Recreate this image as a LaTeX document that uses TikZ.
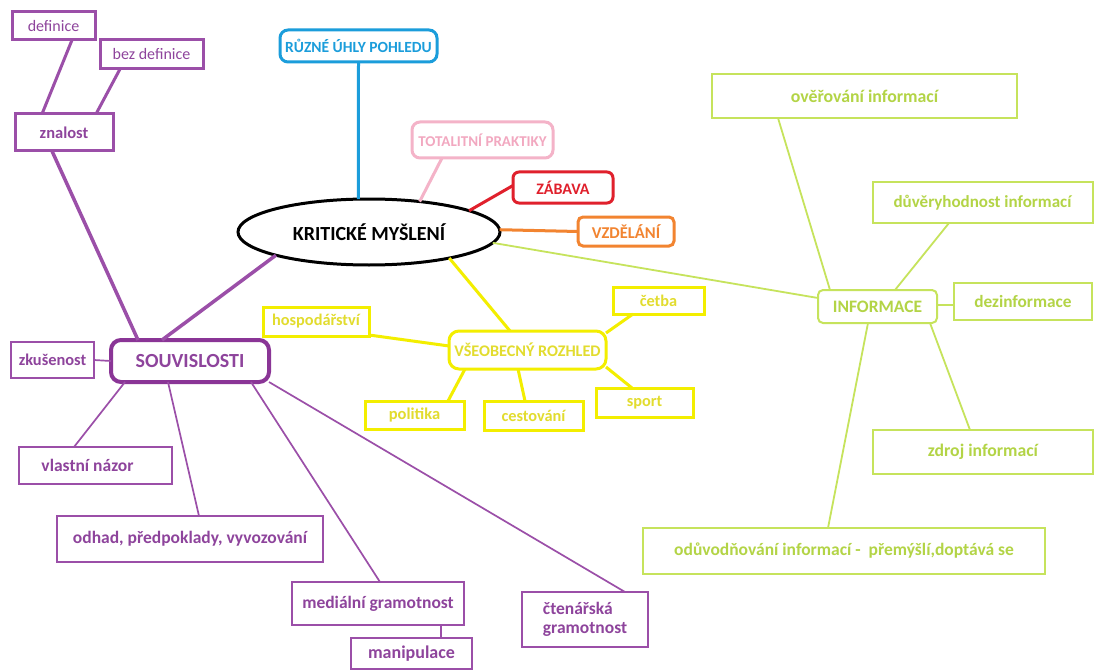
\documentclass[tikz,border=0pt]{standalone}
\usepackage{fontspec}
\setmainfont{Carlito}
\usetikzlibrary{shapes.geometric}
\definecolor{pur}{HTML}{9B4FA8}
\definecolor{purtxt}{HTML}{8E449C}
\definecolor{purdark}{HTML}{8A3596}
\definecolor{blu}{HTML}{1B9DDB}
\definecolor{pnk}{HTML}{F4B3C8}
\definecolor{pnktxt}{HTML}{F2A8C0}
\definecolor{rd}{HTML}{E0202C}
\definecolor{org}{HTML}{F28430}
\definecolor{yel}{HTML}{F3EE00}
\definecolor{yeltxt}{HTML}{E2DC2E}
\definecolor{lim}{HTML}{C6E35C}
\definecolor{limtxt}{HTML}{B3D446}
\begin{document}
\begin{tikzpicture}[x=1pt,y=-1pt,
  every node/.style={inner sep=0pt, outer sep=0pt},
  sz/.style 2 args={minimum width=#1pt, minimum height=#2pt},
  fs/.style={font=\fontsize{#1}{#1}\selectfont\bfseries},
  fsr/.style={font=\fontsize{#1}{#1}\selectfont},
  pbox/.style={draw=pur, line width=3pt, text=purtxt},
  pthin/.style={draw=pur, line width=2pt, text=purtxt},
  pline/.style={draw=pur, line width=3pt},
  pthinline/.style={draw=pur, line width=1.7pt},
  ybox/.style={draw=yel, line width=3pt, text=yeltxt},
  yline/.style={draw=yel, line width=3pt},
  lbox/.style={draw=lim, line width=2pt, text=limtxt},
  lline/.style={draw=lim, line width=1.8pt}]
\fill[white] (0,0) rectangle (1094,671);
\useasboundingbox (0,0) rectangle (1094,671);

% central
\node[draw=black, ellipse, line width=3pt, sz={262}{66}, fs=20] (km) at (369,232) {KRITICKÉ MYŠLENÍ};

% top branches
\node[draw=blu, line width=3pt, rounded corners=8pt, text=blu, sz={157}{32}, fs=15.5] (ruz) at (358.5,46) {RŮZNÉ ÚHLY POHLEDU};
\node[draw=pnk, line width=3pt, rounded corners=8pt, text=pnktxt, sz={141}{36}, fs=15] (tot) at (482.5,140) {TOTALITNÍ PRAKTIKY};
\node[draw=rd, line width=3pt, rounded corners=6pt, text=rd, sz={100}{31}, fs=16] (zab) at (563,187.5) {ZÁBAVA};
\node[draw=org, line width=3pt, rounded corners=5pt, text=org, sz={96}{29}, fs=16.5] (vzd) at (626,231.5) {VZDĚLÁNÍ};

\draw[blu, line width=3pt] (ruz.south) -- (km.108);
\draw[pnk, line width=3pt] ([xshift=-40.5pt]tot.south) -- (km.31.5);
\draw[rd, line width=3pt] ([yshift=2pt]zab.west) -- (km.12.5);
\draw[org, line width=3pt] (vzd.west) -- (km.1);

% purple branch
\node[pbox, sz={83}{28}, fsr=16] (def) at (53.5,26) {definice};
\node[pbox, sz={103}{29}, fsr=16] (bez) at (151.5,54.5) {bez definice};
\node[pbox, sz={98}{37}, fs=16.5] (zna) at (64,132.5) {znalost};
\node[draw=purdark, line width=4pt, rounded corners=10pt, text=purtxt, sz={158}{42}, fs=20] (souv) at (190,361) {SOUVISLOSTI};
\node[pthin, sz={83}{36}, fs=16.4] (zku) at (52.5,360) {zkušenost};
\node[pthin, sz={153}{37}, fs=17.5] (vla) at (95.5,465.5) {\hspace*{-16pt}vlastní názor};
\node[pthin, sz={266}{46}, fs=17.5] (odh) at (190,539) {odhad, předpoklady, vyvozování};
\node[pthin, sz={172}{43}, fs=17.5] (med) at (378,603.5) {mediální gramotnost};
\node[pthin, sz={121}{31}, fs=18] (man) at (411.5,653.5) {manipulace};
\node[pthin, sz={126}{55}, fs=17.5, align=left] (cte) at (585,619.5) {čtenářská\\[2pt]gramotnost};

\draw[pline] ([xshift=18.5pt]def.south) -- ([xshift=-22pt]zna.north);
\draw[pline] ([xshift=-31.5pt]bez.south) -- ([xshift=32pt]zna.north);
\draw[pline, line width=3.5pt] ([xshift=-12pt]zna.south) -- ([xshift=-52pt]souv.north);
\draw[pline, line width=3.5pt] (km.194) -- ([xshift=-28pt]souv.north);
\draw[pthinline] (zku.east) -- (souv.west);
\draw[pthinline] ([xshift=-65pt]souv.south) -- ([xshift=-21.5pt]vla.north);
\draw[pthinline] ([xshift=-22pt]souv.south) -- ([xshift=9pt]odh.north);
\draw[pthinline] ([xshift=61pt]souv.south) -- ([xshift=2pt]med.north);
\draw[pthinline] (souv.south east) -- ([xshift=40pt]cte.north);
\draw[pthinline] ([xshift=63pt]med.south) -- ([xshift=63pt]med.south |- man.north);

% yellow branch
\node[ybox, rounded corners=10pt, sz={157}{38}, fs=16.2] (vs) at (527.5,350) {VŠEOBECNÝ ROZHLED};
\node[ybox, sz={106}{29}, fs=16.3] (hos) at (316,321.5) {hospodářství};
\node[ybox, sz={91}{27}, fs=16.3] (cet) at (658.5,300.5) {četba};
\node[ybox, sz={99}{28}, fs=16.5] (pol) at (414.5,415) {politika};
\node[ybox, sz={99}{29}, fs=16.3] (ces) at (533.5,415.5) {cestování};
\node[ybox, sz={97}{29}, fs=16.3] (spo) at (644.5,402.5) {sport};

\draw[yline] (km.-18) -- ([xshift=-17.5pt]vs.north);
\draw[yline] ([yshift=-13.5pt]hos.east) -- ([yshift=4pt]vs.west);
\draw[yline] ([xshift=-25.5pt]cet.south) -- ([yshift=17pt]vs.east);
\draw[yline] ([xshift=33.5pt]pol.north) -- ([xshift=-62.5pt]vs.south);
\draw[yline] ([xshift=-8.5pt]ces.north) -- ([xshift=-9.5pt]vs.south);
\draw[yline] ([xshift=-12.5pt]spo.north) -- ([yshift=-17pt]vs.east);

% lime branch
\node[lbox, rounded corners=5pt, sz={119}{33}, fs=17.5] (info) at (877.5,306.5) {INFORMACE};
\node[lbox, sz={305}{44}, fs=17.8] (ove) at (864.5,96) {ověřování informací};
\node[lbox, sz={220}{41}, fs=17] (duv) at (982.5,202.5) {důvěryhodnost informací};
\node[lbox, sz={138}{37}, fs=17.3] (dez) at (1023,301.5) {dezinformace};
\node[lbox, sz={220}{44}, fs=17.7] (zdr) at (983,452) {zdroj informací};
\node[lbox, sz={402}{46}, fs=17.5] (odu) at (844,551) {odůvodňování informací -\ \ přemýšlí,doptává se};

\draw[lline] (km.-5) -- ([yshift=8.5pt]info.west);
\draw[lline] ([xshift=-47.5pt]info.north) -- ([xshift=-86.5pt]ove.south);
\draw[lline] ([xshift=17.5pt]info.north) -- ([xshift=-33.5pt]duv.south);
\draw[lline] ([yshift=1.5pt]info.east) -- ([yshift=1.5pt]info.east -| dez.west);
\draw[lline] ([xshift=52.5pt]info.south) -- ([xshift=-13pt]zdr.north);
\draw[lline] ([xshift=-9.5pt]info.south) -- ([xshift=-16pt]odu.north);
\end{tikzpicture}
\end{document}
